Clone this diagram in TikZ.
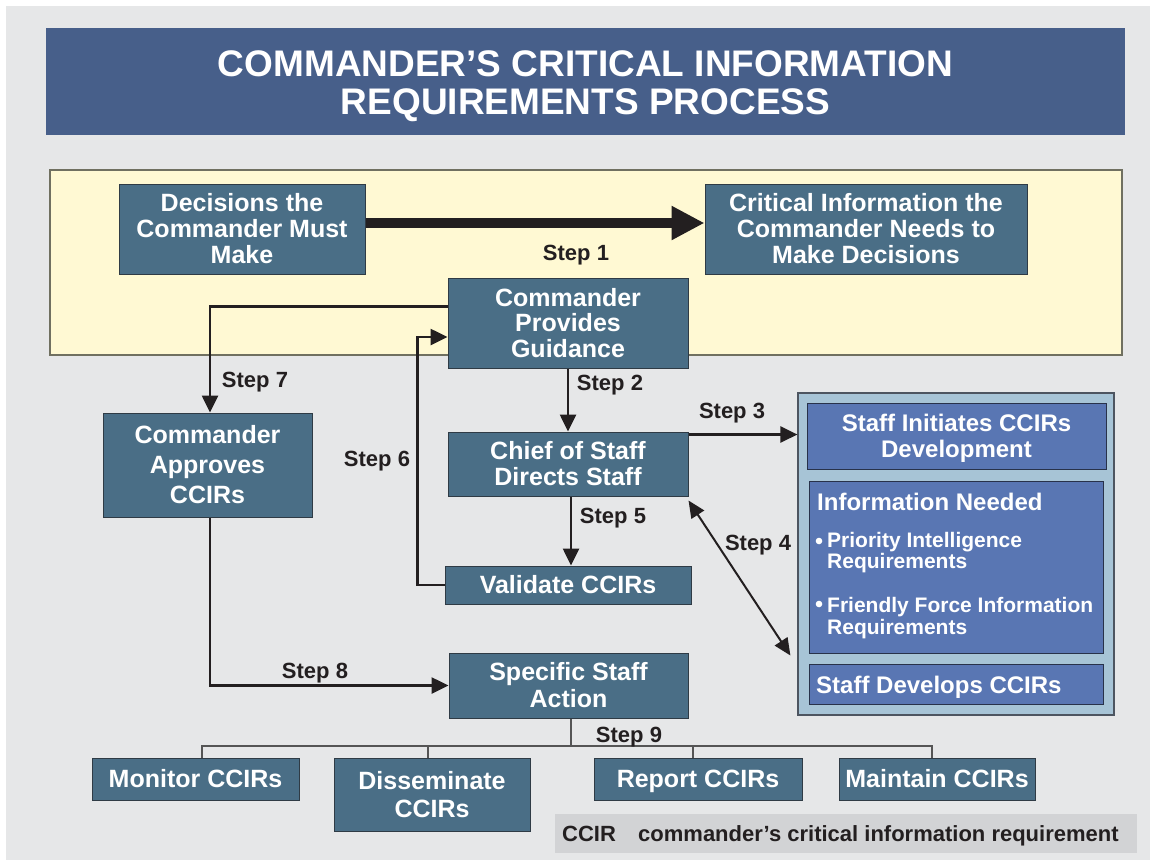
\documentclass[tikz,border=0pt]{standalone}
\usepackage{fontspec}
\setmainfont{Liberation Sans}
\usetikzlibrary{arrows.meta,calc}
\definecolor{bgray}{HTML}{E6E7E8}
\definecolor{lgray}{HTML}{D2D3D5}
\definecolor{steel}{HTML}{4A6E86}
\definecolor{edgec}{HTML}{2F3B45}
\definecolor{titleblue}{HTML}{475F8A}
\definecolor{ybg}{HTML}{FFF9D3}
\definecolor{yedge}{HTML}{707060}
\definecolor{pblue}{HTML}{A7C4D6}
\definecolor{pedge}{HTML}{4D5560}
\definecolor{istaff}{HTML}{5976B3}
\definecolor{iedge}{HTML}{28324A}
\definecolor{ink}{HTML}{231F20}
\definecolor{busc}{HTML}{555555}
\begin{document}
\begin{tikzpicture}[x=1pt,y=-1pt,
  sbox/.style={draw=edgec, line width=1pt, fill=steel, text=white, align=center, inner sep=0pt},
  ibox/.style={draw=iedge, line width=1pt, fill=istaff, text=white, align=center, inner sep=0pt},
  bf25/.style={font=\bfseries\fontsize{25}{26}\selectfont},
  oneline/.style={text height=20pt, text depth=3pt},
  wtxt/.style={text=white, inner sep=0pt, font=\bfseries\fontsize{24}{26}\selectfont},
  btxt/.style={text=white, inner sep=0pt, align=left, font=\bfseries\fontsize{21}{21}\selectfont},
  steplbl/.style={text=ink, inner sep=0pt, font=\bfseries\fontsize{22}{22}\selectfont},
  flow/.style={draw=ink, line width=2.6pt, -{Triangle[length=17pt,width=16pt]}},
  busline/.style={draw=busc, line width=1.2pt}
]
\useasboundingbox (0,0) rectangle (1150,860);
\fill[white] (0,0) rectangle (1150,860);
\fill[bgray] (6,6) rectangle (1150,860);

% title
\node[fill=titleblue, minimum width=1079pt, minimum height=107pt, inner sep=0pt] (title) at (585.5,81.5) {};
\node[text=white, align=center, inner sep=0pt, font=\bfseries\fontsize{37}{38}\selectfont] (titletxt) at (585.5,86)
  {COMMANDER’S CRITICAL INFORMATION\\REQUIREMENTS PROCESS};

% yellow band
\node[draw=yedge, line width=1.5pt, fill=ybg, minimum width=1072pt, minimum height=185pt, inner sep=0pt] (band) at (586,262.5) {};

% staff panel
\node[draw=pedge, line width=1.2pt, fill=pblue, minimum width=316pt, minimum height=322pt, inner sep=0pt] (panel) at (956,554) {};

% main boxes
\node[sbox, bf25, minimum width=246pt, minimum height=90pt] (dec) at (242,229) {Decisions the\\Commander Must\\Make};
\node[sbox, bf25, minimum width=322pt, minimum height=90pt] (crit) at (866,229) {Critical Information the\\Commander Needs to\\Make Decisions};
\node[sbox, font=\bfseries\fontsize{25}{25.5}\selectfont, minimum width=240pt, minimum height=90pt] (cpg) at (568,323) {Commander\\Provides\\Guidance};
\node[sbox, bf25, minimum width=240pt, minimum height=64pt] (cas) at (568,464) {Chief of Staff\\Directs Staff};
\node[sbox, bf25, oneline, minimum width=246pt, minimum height=38pt] (val) at (568,585) {Validate CCIRs};
\node[sbox, font=\bfseries\fontsize{25}{30}\selectfont, minimum width=209pt, minimum height=104pt] (cap) at (207.5,465) {Commander\\Approves\\CCIRs};
\node[sbox, font=\bfseries\fontsize{25}{27}\selectfont, minimum width=239pt, minimum height=65pt] (ssa) at (568.5,685.5) {Specific Staff\\Action};
\node[sbox, bf25, oneline, minimum width=207pt, minimum height=42pt] (mon) at (195.5,779) {Monitor CCIRs};
\node[sbox, font=\bfseries\fontsize{25}{28}\selectfont, minimum width=196pt, minimum height=73pt] (dis) at (432,794.5) {Disseminate\\CCIRs};
\node[sbox, bf25, oneline, minimum width=208pt, minimum height=42pt] (rep) at (698,779) {Report CCIRs};
\node[sbox, bf25, oneline, minimum width=196pt, minimum height=42pt] (mai) at (937,779) {Maintain CCIRs};

% staff inner boxes
\node[ibox, minimum width=299pt, minimum height=66pt] (sic) at (956.5,436) {};
\node[wtxt, align=center] (sict) at (956.5,438) {Staff Initiates CCIRs\\Development};
\node[ibox, minimum width=294pt, minimum height=172pt] (inf) at (956,567) {};
\node[ibox, minimum width=294pt, minimum height=40pt] (sdc) at (956,684) {};
\node[wtxt, oneline, anchor=west] (infh) at (817,502) {Information Needed};
\fill[white] (819,541) circle (3.3pt);
\fill[white] (819,604) circle (3.3pt);
\node[btxt, anchor=west] (b1) at (827,553) {Priority Intelligence\\Requirements};
\node[btxt, anchor=west, font=\bfseries\fontsize{21}{22}\selectfont] (b2) at (827,618) {Friendly Force Information\\Requirements};
\node[wtxt, oneline, anchor=west] (sdct) at (816,685) {Staff Develops CCIRs};

% legend
\node[fill=lgray, minimum width=582pt, minimum height=39pt, inner sep=0pt] (leg) at (846,833.5) {};
\node[steplbl, text height=18pt, text depth=2pt, anchor=west] (legA) at (562,833) {CCIR};
\node[steplbl, text height=18pt, text depth=2pt, anchor=west] (legB) at (638,833) {commander’s critical information requirement};

% connectors
\draw[ink, line width=10pt, -{Triangle[length=33pt,width=32pt]}] ([yshift=6pt]dec.east) -- ([yshift=6pt]crit.west);
\draw[flow] ([yshift=-29pt]cpg.north west) -| ([xshift=2.5pt]cap.north);
\draw[flow] (val.west) -- ++(-27pt,0pt) |- ([yshift=-14pt]cpg.west);
\draw[flow] (cpg.south) -- (cas.north);
\draw[flow] ([xshift=3pt]cas.south) -- ([xshift=3pt]val.north);
\coordinate (s3) at ([yshift=-3pt]cas.north east);
\draw[flow] (s3) -- (s3 -| panel.west);
\coordinate (s4a) at ([yshift=-4pt]cas.south east);
\coordinate (s4b) at ($(panel.west |- inf.south)+(-7pt,-2pt)$);
\draw[ink, line width=2pt, {Triangle[length=17pt,width=15pt]}-{Triangle[length=17pt,width=15pt]}] (s4a) -- (s4b);
\draw[flow] ([xshift=2.5pt]cap.south) |- (ssa.west);

\coordinate (bus) at (571,746);
\draw[busline] ([xshift=2.5pt]ssa.south) -- (bus);
\draw[busline] (bus) -| ([xshift=6.5pt]mon.north);
\draw[busline] (bus) -| ([xshift=-4pt]dis.north);
\draw[busline] (bus) -| ([xshift=-5pt]rep.north);
\draw[busline] (bus) -| ([xshift=-5pt]mai.north);

% step labels
\node[steplbl] (l1) at (576,255) {Step 1};
\node[steplbl] (l7) at (255,382) {Step 7};
\node[steplbl] (l2) at (610,385) {Step 2};
\node[steplbl] (l6) at (377,461) {Step 6};
\node[steplbl] (l5) at (613,518) {Step 5};
\node[steplbl] (l3) at (732,413) {Step 3};
\node[steplbl] (l4) at (758,545) {Step 4};
\node[steplbl] (l8) at (315,673) {Step 8};
\node[steplbl] (l9) at (629,737) {Step 9};
\end{tikzpicture}
\end{document}
